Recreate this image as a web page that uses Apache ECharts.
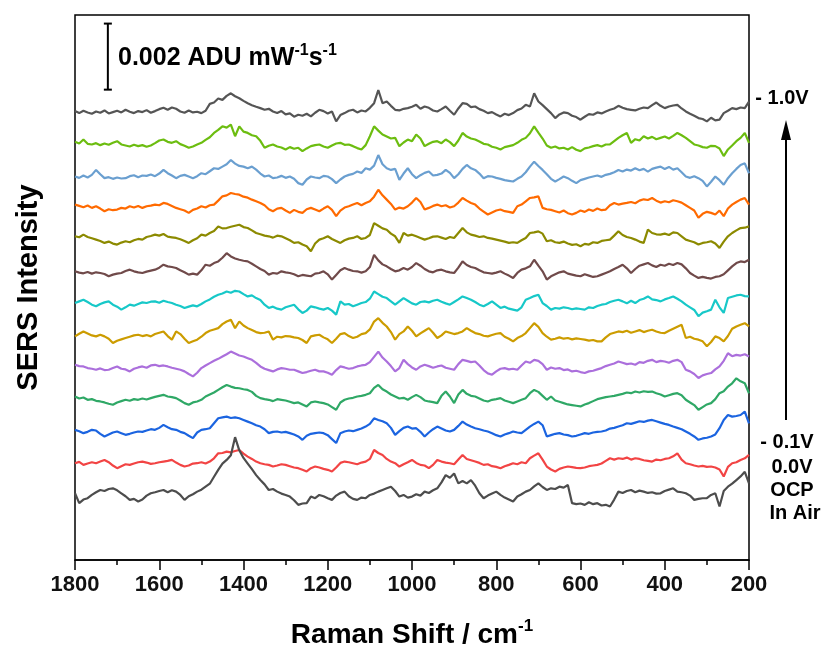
<!DOCTYPE html>
<html><head><meta charset="utf-8">
<script src="https://cdn.jsdelivr.net/npm/echarts@6/dist/echarts.min.js"></script>
<style>html,body{margin:0;padding:0;background:#fff}#c{width:823px;height:647px}</style>
</head><body><div id="c"></div>
<script>
// Raman shift sampling: 1800 -> 200 cm-1, every 10 cm-1 (161 points)
const shiftStart = 1800;
const shiftStep = 10;
const xTicks = [1800, 1600, 1400, 1200, 1000, 800, 600, 400, 200];

// intensity unit: 1e-5 ADU mW-1 s-1 ; scale bar = 0.002 ADU = 200 units
const scaleBarShift = 1722;
const scaleBarBase = 1424;
const scaleBarSpan = 200;

const seriesNames = ['-1.0V','-0.9V','-0.8V','-0.7V','-0.6V','-0.5V','-0.4V','-0.3V','-0.2V','-0.1V','0.0V','OCP','In Air'];
const seriesColors = ['#555555','#6cbd10','#6a9fd0','#ff6a00','#8c8a00','#704a4a','#17c8c8','#cc9c00','#ab6fdc','#2fa866','#1b64e0','#f24444','#4d4d4d'];
const stackOffsets = [1357, 1264, 1160, 1070, 976, 873, 779, 682, 585, 491, 394, 294, 191];

const sNeg10 = [2,-4,3,-2,-6,1,-3,4,-5,-1, 3,-2,6,0,-4,2,-1,5,-3,2, 8,12,6,13,9,1,-3,4,-2,0, -4,3,24,28,40,36,48,56,47,41,
 33,26,20,15,11,6,9,1,-4,2, -8,-5,-15,-9,-12,-6,-14,-3,6,2, -5,1,-29,-10,-4,3,6,-2,4,1, 12,26,66,26,31,18,6,4,9,11,
 15,21,9,16,12,4,1,8,16,3, -9,10,26,24,14,16,8,3,-4,-1, -8,-14,-6,-10,-4,5,10,21,16,56, 31,20,8,-4,-19,-8,-2,-4,-12,-16,
 -24,-15,-7,-9,-2,-5,1,6,10,18, 12,8,6,4,9,13,11,20,28,18, 11,16,19,21,10,1,-6,-12,-19,-22, -29,-18,-26,-24,-4,3,11,8,13,11, 31];
const sNeg09 = [2,-3,9,-4,-6,-2,-8,-3,-7,-1, 4,-6,-9,-12,-7,-11,-8,-13,-9,-2, 6,9,2,-1,4,-5,-10,-16,-12,-6, -1,8,16,29,38,49,45,54,19,49,
 33,29,22,19,5,-16,-10,-6,-12,-15, -21,-14,-19,-16,-26,-18,-11,-8,-6,-12, -16,-9,-3,-1,-7,-6,-11,-17,-21,-8, 19,49,36,24,18,12,14,-11,0,9,
 4,24,12,-11,-4,2,4,-2,9,1, -11,6,29,18,12,9,3,-4,-6,-13, -16,-21,-14,-11,-8,-1,8,14,28,49, 30,12,-9,-16,-12,-18,-16,-21,-14,-22,
 -26,-18,-15,-11,-8,-12,-6,-6,4,14, 22,29,-1,10,6,19,12,17,10,14, 18,12,20,29,22,14,4,-6,-9,-14, -16,-10,-11,-18,-41,-21,-9,4,14,29, -1];
const sNeg08 = [1,-3,4,-2,6,21,8,-4,-1,-6, -2,-5,-4,2,5,-1,4,3,7,2, 10,21,11,4,-4,3,6,1,-4,2, 11,8,17,26,24,31,38,51,40,33,
 31,26,31,22,10,1,4,-4,-2,3, -3,1,-6,-19,-24,-8,1,-2,-4,3, 1,-7,-19,-8,1,6,9,16,12,26, 22,34,66,38,26,21,24,-9,10,26,
 8,-4,5,12,16,4,6,10,21,12, -4,8,24,36,26,21,10,-4,2,1, -3,-6,-10,-12,-14,-6,1,14,31,46, 33,21,8,-6,-14,-7,1,-4,-12,-19,
 -10,-6,-2,1,4,0,6,9,14,21, 16,22,19,26,20,24,16,24,28,31, 24,30,22,26,14,1,-3,2,-4,-12, -29,-15,1,-10,-24,-4,11,24,36,41, 11];
const sNeg07 = [6,2,-2,3,-4,1,-6,-14,-8,-11, -9,-4,-6,1,-3,2,-4,1,3,6, 4,11,8,2,-4,-8,-12,-19,-10,-6, 1,-3,4,6,18,31,34,41,38,36,
 30,27,21,16,11,4,-8,-14,-6,-4, -12,-19,-10,-16,-19,-8,-4,-9,-14,-6, 1,-10,-29,-12,-3,1,6,11,4,11, 16,30,51,34,21,8,-9,-3,-6,1,
 12,26,14,-9,-4,2,6,1,4,-3, 1,12,26,18,11,6,-6,-15,-24,-18, -12,-9,-14,-16,-19,1,6,16,26,28, 31,-4,-8,-10,-14,-18,-12,-20,-24,-19,
 -12,-16,-9,-13,-6,-11,-9,4,11,6, 9,11,14,10,18,22,20,26,18,12, 16,13,19,16,12,4,-4,-12,-34,-22, -16,-19,-24,-12,-29,-6,6,14,21,26, 6];
const sNeg06 = [4,1,9,2,-2,-6,-10,-16,-12,-18, -21,-15,-11,-14,-8,-4,-6,2,5,9, 6,11,3,1,-1,-5,-10,-16,-8,-2, 9,6,14,20,34,28,29,33,36,39,
 32,29,22,14,10,6,4,0,6,4, -2,-8,-16,-14,-21,-26,-41,-18,-6,-2, 4,-4,-10,-16,-8,-3,-1,4,-4,-1, 8,44,36,28,24,12,4,-16,14,6,
 9,4,-1,-6,-2,3,4,0,-4,2, -1,14,29,16,9,6,2,4,-1,-3, -6,-9,-12,-16,-14,-16,-8,-1,14,16, 19,12,-11,-8,-14,-16,-12,-18,-22,-20,
 -26,-19,-21,-14,-16,-10,-8,-6,6,19, 8,2,-1,-6,-12,-16,24,14,10,9, 12,8,16,14,4,-6,-10,-14,-21,-16, -14,-11,-18,-31,-12,4,14,22,29,30, 34];
const sNeg05 = [1,-3,-5,-1,-6,-2,-4,-7,-14,-9, -6,-4,2,6,1,-2,-4,0,3,6, 12,21,16,14,11,4,-2,-9,-6,-9, 4,21,18,26,31,42,56,46,40,36,
 33,31,24,16,8,2,-9,-4,-6,1, -2,-4,-8,-14,-10,-12,-14,-6,-4,1, -8,-24,-10,4,11,6,2,1,-3,1, 14,51,34,22,16,8,1,4,11,6,
 14,26,18,8,1,-2,4,6,1,-2, -4,12,31,20,14,11,4,-2,-4,-6, -3,1,-6,-12,-19,-4,6,10,16,36, 18,1,-24,-14,-8,-2,1,-6,-9,-12,
 -14,-8,-12,-16,-14,-9,-4,1,8,14, 21,10,-4,8,18,22,26,19,14,21, 18,24,20,26,22,10,-4,-12,-19,-16, -19,-21,-16,-14,-8,4,16,26,31,29, 36];
const sNeg04 = [-1,4,9,2,-6,-11,-4,1,4,-6, -12,-21,-14,-6,-9,-4,1,-1,3,4, 0,6,2,-1,-6,-10,-16,-12,-8,-11, -4,4,10,18,24,28,34,30,36,34,
 26,19,22,14,8,-6,-16,-12,-18,-21, -14,-10,-6,-20,-31,-24,-11,-14,-18,-21, -16,-24,-36,4,-6,-4,-11,-6,-1,2, 12,34,26,18,14,4,-6,4,14,6,
 -2,-6,2,4,1,6,9,3,-2,-6, 2,10,19,14,9,2,-6,-11,-4,4, -6,-16,-12,-18,-21,-24,-14,9,14,20, 24,-1,-10,-21,-16,-18,-14,-16,-20,-17,
 -19,-21,-14,-16,-10,-6,-4,2,6,9, 4,-2,6,-1,8,12,19,10,8,4, 10,14,19,12,4,-6,-14,-22,-41,-30, -26,-21,9,-14,-31,14,18,22,24,20, 19];
const sNeg03 = [-5,3,10,4,-2,-5,0,-5,-12,-25, -18,-14,-10,-6,-2,0,-4,-1,-5,2, 6,10,-4,-15,10,2,-12,-25,-20,-15, -6,5,12,16,20,32,40,45,20,40,
 28,20,14,8,5,6,10,-15,-6,-8, -4,-5,-8,-10,-16,-25,-5,-2,0,-8, -14,-25,-12,2,5,-4,-10,-6,2,5, 16,40,50,36,25,8,-15,2,10,25,
 12,-5,4,12,20,6,-10,-2,10,6, 2,5,10,20,12,5,2,-3,-5,-1, 3,5,-6,-12,-20,-10,-4,5,20,35, 24,5,-6,-15,-12,-8,-12,-10,-14,-11,
 -13,-15,-18,-16,-20,-20,-8,2,6,10, 8,12,6,10,14,8,12,15,10,6, 5,12,18,24,30,-10,-6,-12,-15,-20, -35,-22,-5,-10,-20,-4,18,25,30,35, 25];
const sNeg02 = [6,2,1,-4,-6,-9,-5,-10,-9,-4, 1,-6,-8,-14,-6,-2,1,-3,4,6, 2,4,1,-3,-6,-9,-14,-22,-29,-18, -4,4,11,18,24,31,38,46,40,34,
 31,26,21,12,1,-6,-10,-14,-8,-4, -6,-9,-9,-14,-19,-16,-12,-9,-14,-14, -18,-24,-10,1,-2,-6,-4,1,4,6, 14,30,46,28,16,2,-14,-4,21,8,
 -2,-9,1,6,2,-3,1,4,-3,-6, -9,8,21,18,14,16,4,-10,-20,-24, -14,-6,-4,-8,-6,-9,4,16,12,21, 18,8,-9,-2,-6,-4,-10,-8,-14,-12,
 -16,-19,-14,-12,-8,-4,2,6,10,16, 12,8,10,6,14,12,18,21,14,18, 16,12,18,21,14,-9,-14,-22,-34,-26, -22,-19,-8,1,18,41,32,36,34,38, 31];
const sNeg01 = [4,-2,1,-6,-4,-9,-11,-14,-18,-21, -14,-10,-6,-9,-4,-6,-2,-5,-1,3, 6,9,4,2,-1,-8,-16,-21,-14,-11, -6,4,10,16,24,32,39,34,30,29,
 26,24,18,6,-1,-4,-6,-10,-4,-6, -8,-12,-16,-14,-20,-26,-14,-11,-14,-16, -20,-28,-36,-14,-6,-2,0,4,6,9, 14,30,39,26,19,10,4,-2,0,-6,
 2,9,2,-8,-11,-13,-16,6,19,4, -16,10,24,12,6,4,-2,-8,-11,-6, -4,-1,-8,-12,-16,-11,-6,-1,14,24, 18,6,-6,4,-8,-12,-16,-20,-22,-24,
 -26,-20,-16,-10,-4,-1,2,4,6,9, 12,16,14,19,16,20,18,19,14,10, 4,8,12,14,8,-6,-14,-22,-36,-28, -20,-16,-4,14,20,34,44,59,50,44, 14];
const sZero = [0,-4,-10,-6,0,-2,-12,-20,-14,-8, -5,-10,-15,-12,-8,-5,-6,-2,2,0, 6,15,8,2,0,-6,-10,-18,-25,-8, 0,2,5,20,35,38,40,36,38,35,
 30,25,20,14,10,2,-10,-6,-5,-8, -6,-10,-14,-20,-30,-18,-12,-10,-8,-10, -16,-28,-40,-10,-5,-2,-4,0,4,10, 18,35,30,26,20,6,-15,-4,6,10,
 4,5,-6,-20,-8,2,10,4,-2,-5, 0,12,25,16,10,5,2,-2,-5,-10, -16,-20,-14,-10,-5,-8,-10,0,10,18, 25,14,-20,-16,-12,-10,-14,-16,-20,-18,
 -14,-10,-12,-8,-6,-5,-2,4,6,10, 14,20,18,22,26,24,28,30,26,22, 18,15,10,6,2,-5,-12,-20,-30,-26, -24,-20,-14,5,30,45,40,42,45,55, 20];
const sOCP = [-1,3,-6,-2,2,-1,4,9,2,-8, -16,-10,-4,-6,-2,2,4,1,-3,-1, 2,4,6,9,1,-6,-11,-8,-2,-1, 2,-2,4,14,29,30,34,32,36,39,
 28,19,12,4,-1,-4,-6,-11,-8,-4, -6,-10,-14,-16,-21,-26,-16,-11,-14,-18, -21,-26,-14,0,4,2,-1,-4,1,4, 12,39,30,24,12,4,-1,-11,-4,2,
 9,0,-6,-8,-16,-6,9,4,1,-1, -4,10,24,12,8,4,0,-6,-4,-10, -12,-16,-10,-6,-1,-4,2,-1,14,22, 29,10,-11,-20,-26,-18,-14,-11,-13,-15,
 -16,-14,-10,-8,-6,-2,6,14,10,14, 12,16,10,14,12,8,6,4,10,8, 12,14,20,29,10,-1,-4,-8,-11,-9, -12,-11,-14,-20,-41,-12,-1,2,9,14, 24];
const sAir = [11,-19,-8,-4,6,14,21,18,24,26, 20,11,2,-9,-6,-14,-8,4,11,14, 18,21,14,20,16,6,-9,2,8,16, 22,31,40,61,82,101,112,126,181,141,
 118,101,84,66,51,38,21,24,16,10, 6,1,-10,-24,-20,-19,1,-4,6,2, -4,-9,4,12,16,2,-6,-9,-2,-4, 6,10,16,21,26,31,18,1,6,-2,
 1,8,4,16,12,20,26,44,66,58, 71,41,48,41,51,34,11,-4,4,10, 16,6,-2,-8,-14,1,8,16,21,32, 41,30,21,26,24,31,28,36,-19,-22,
 -20,-24,-16,-22,-19,-26,-24,-29,-8,16, 12,18,21,14,19,16,12,14,10,11, 18,22,26,16,14,11,4,-9,-6,-4, -4,6,11,-29,18,31,40,51,62,76, 41];

const spectra = [sNeg10, sNeg09, sNeg08, sNeg07, sNeg06, sNeg05, sNeg04, sNeg03, sNeg02, sNeg01, sZero, sOCP, sAir];

const FONT = "'Liberation Sans', Arial, sans-serif";
const LABEL_FONT = "bold 20px 'Liberation Sans', Arial, sans-serif";
const chart = echarts.init(document.getElementById('c'), null, {renderer: 'canvas'});

const series = spectra.map((vals, i) => ({
  name: seriesNames[i],
  type: 'line',
  showSymbol: false,
  silent: true,
  animation: false,
  lineStyle: {color: seriesColors[i], width: 2.2},
  data: vals.map((v, k) => [shiftStart - k * shiftStep, v + stackOffsets[i]])
}));

series.push({
  name: 'scale',
  type: 'line',
  silent: true,
  animation: false,
  symbol: 'rect',
  symbolSize: [8, 2],
  showSymbol: true,
  itemStyle: {color: '#000'},
  lineStyle: {color: '#000', width: 2},
  data: [[scaleBarShift, scaleBarBase], [scaleBarShift, scaleBarBase + scaleBarSpan]]
});

const boldTxt = (size) => ({fontFamily: FONT, fontWeight: 'bold', fontSize: size, color: '#000'});

chart.setOption({
  animation: false,
  backgroundColor: '#fff',
  grid: {left: 75, right: 74, top: 15, bottom: 87, show: true, borderColor: '#000', borderWidth: 1.5,
         containLabel: false, outerBoundsMode: 'none'},
  xAxis: {
    type: 'value', inverse: true, min: 200, max: 1800, interval: 200,
    axisLine: {show: true, onZero: false, lineStyle: {color: '#000', width: 1.5}},
    axisTick: {show: true, inside: false, length: 10, lineStyle: {color: '#000', width: 1.5}},
    minorTick: {show: true, splitNumber: 2, length: 5, lineStyle: {color: '#000', width: 1.5}},
    splitLine: {show: false},
    axisLabel: {margin: 14, formatter: (v) => xTicks.includes(v) ? String(v) : '', ...boldTxt(22), color: '#111'},
    name: 'Raman Shift / cm{sup|-1}',
    nameLocation: 'middle',
    nameGap: 58,
    nameTextStyle: {...boldTxt(28), lineHeight: 34, rich: {sup: {...boldTxt(17), verticalAlign: 'top', lineHeight: 20}}}
  },
  yAxis: {
    type: 'value', min: 0, max: 1650,
    axisLine: {show: false}, axisTick: {show: false}, axisLabel: {show: false}, splitLine: {show: false},
    name: 'SERS Intensity', nameLocation: 'middle', nameGap: 32,
    nameTextStyle: boldTxt(29)
  },
  series: series,
  graphic: [
    {type: 'text', left: 118, top: 43, silent: true,
     style: {text: '{m|0.002 ADU mW}{s|-1}{m|s}{s|-1}', rich: {
       m: {...boldTxt(25), lineHeight: 30},
       s: {...boldTxt(16), verticalAlign: 'top', lineHeight: 18}
     }}},
    {type: 'text', x: 782, y: 98, silent: true, style: {text: '- 1.0V', fill: '#000', align: 'center', verticalAlign: 'middle', font: LABEL_FONT}},
    {type: 'text', x: 787, y: 442, silent: true, style: {text: '- 0.1V', fill: '#000', align: 'center', verticalAlign: 'middle', font: LABEL_FONT}},
    {type: 'text', x: 792, y: 467, silent: true, style: {text: '0.0V', fill: '#000', align: 'center', verticalAlign: 'middle', font: LABEL_FONT}},
    {type: 'text', x: 792, y: 490, silent: true, style: {text: 'OCP', fill: '#000', align: 'center', verticalAlign: 'middle', font: LABEL_FONT}},
    {type: 'text', x: 795, y: 513, silent: true, style: {text: 'In Air', fill: '#000', align: 'center', verticalAlign: 'middle', font: LABEL_FONT}},
    {type: 'line', silent: true, shape: {x1: 786, y1: 420, x2: 786, y2: 136}, style: {stroke: '#000', lineWidth: 2}},
    {type: 'polygon', silent: true, shape: {points: [[786, 120], [781, 140], [791, 140]]}, style: {fill: '#000'}}
  ]
});
</script>
</body></html>
